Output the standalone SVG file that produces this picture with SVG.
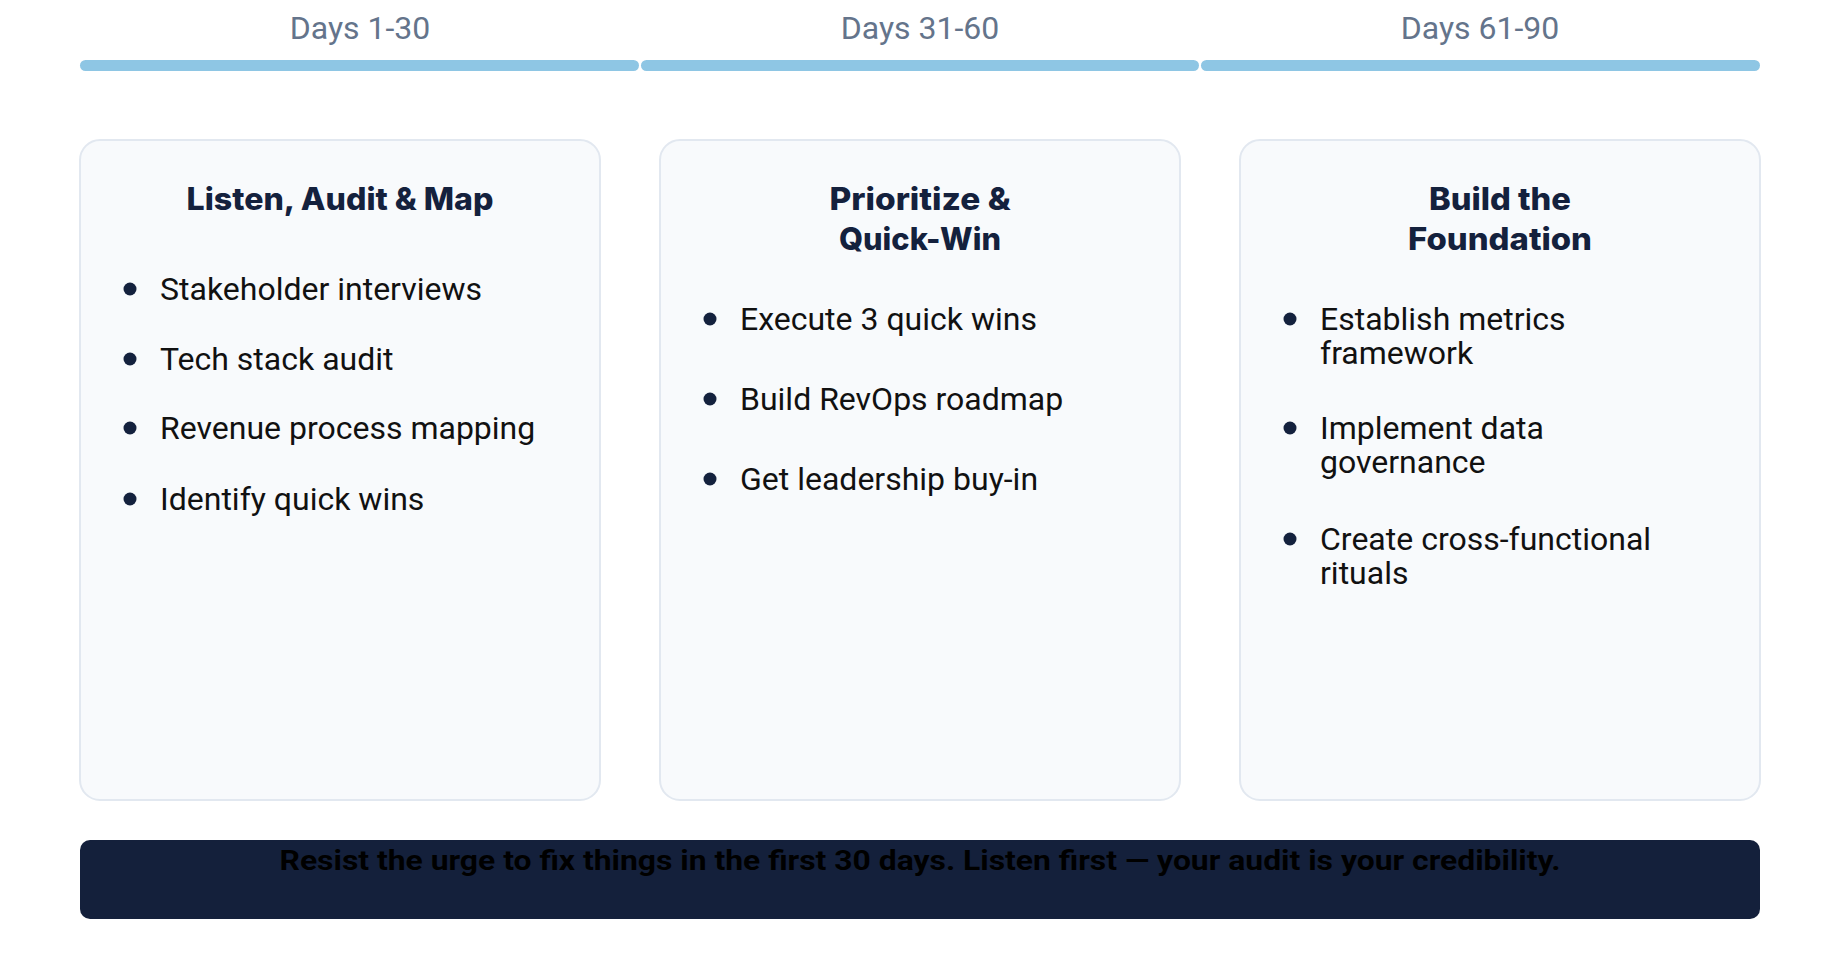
<svg xmlns="http://www.w3.org/2000/svg" width="1840" height="960" viewBox="0 0 1840 960">
<style>
.day{font-family:Roboto,"Liberation Sans",sans-serif;font-size:32px;fill:#64748b;text-anchor:middle}
.seg{fill:#8ec6e4}
.card{fill:#f8fafc;stroke:#e2e8f0;stroke-width:2}
.title{font-family:Inter,Roboto,"Liberation Sans",sans-serif;font-weight:800;font-size:31px;fill:#14213d;text-anchor:middle}
.item{font-family:Roboto,"Liberation Sans",sans-serif;font-size:32px;fill:#111111}
.dot{fill:#14213d}
.footer{fill:#14203b}
.note{font-family:Roboto,"Liberation Sans",sans-serif;font-weight:700;font-size:28px;fill:#000000;text-anchor:middle}
</style>
<rect width="1840" height="960" fill="#ffffff"/>
<g id="timeline">
<text class="day" x="360" y="39">Days 1-30</text>
<text class="day" x="920" y="39">Days 31-60</text>
<text class="day" x="1480" y="39">Days 61-90</text>
<rect class="seg" x="80" y="60" width="559" height="11" rx="5.5"/>
<rect class="seg" x="641" y="60" width="558" height="11" rx="5.5"/>
<rect class="seg" x="1201" y="60" width="559" height="11" rx="5.5"/>
</g>
<g id="connectors"></g>
<g id="phase1">
<rect class="card" x="80" y="140" width="520" height="660" rx="20"/>
<text class="title" x="340" y="210" textLength="307" lengthAdjust="spacingAndGlyphs">Listen, Audit &amp; Map</text>
<circle class="dot" cx="130" cy="289" r="6.5"/><text class="item" x="160" y="300">Stakeholder interviews</text>
<circle class="dot" cx="130" cy="359" r="6.5"/><text class="item" x="160" y="370">Tech stack audit</text>
<circle class="dot" cx="130" cy="428" r="6.5"/><text class="item" x="160" y="439">Revenue process mapping</text>
<circle class="dot" cx="130" cy="499" r="6.5"/><text class="item" x="160" y="510">Identify quick wins</text>
</g>
<g id="phase2">
<rect class="card" x="660" y="140" width="520" height="660" rx="20"/>
<text class="title" x="920" y="210" textLength="181" lengthAdjust="spacingAndGlyphs">Prioritize &amp;</text>
<text class="title" x="920" y="250" textLength="162" lengthAdjust="spacingAndGlyphs">Quick-Win</text>
<circle class="dot" cx="710" cy="319" r="6.5"/><text class="item" x="740" y="330">Execute 3 quick wins</text>
<circle class="dot" cx="710" cy="399" r="6.5"/><text class="item" x="740" y="410">Build RevOps roadmap</text>
<circle class="dot" cx="710" cy="479" r="6.5"/><text class="item" x="740" y="490">Get leadership buy-in</text>
</g>
<g id="phase3">
<rect class="card" x="1240" y="140" width="520" height="660" rx="20"/>
<text class="title" x="1500" y="210" textLength="142" lengthAdjust="spacingAndGlyphs">Build the</text>
<text class="title" x="1500" y="250" textLength="184" lengthAdjust="spacingAndGlyphs">Foundation</text>
<circle class="dot" cx="1290" cy="319" r="6.5"/><text class="item" x="1320" y="330">Establish metrics</text><text class="item" x="1320" y="364">framework</text>
<circle class="dot" cx="1290" cy="428" r="6.5"/><text class="item" x="1320" y="439">Implement data</text><text class="item" x="1320" y="473">governance</text>
<circle class="dot" cx="1290" cy="539" r="6.5"/><text class="item" x="1320" y="550">Create cross-functional</text><text class="item" x="1320" y="584">rituals</text>
</g>
<g id="callout">
<rect class="footer" x="80" y="840" width="1680" height="79" rx="10"/>
<text class="note" x="920" y="870" textLength="1281" lengthAdjust="spacingAndGlyphs">Resist the urge to fix things in the first 30 days. Listen first — your audit is your credibility.</text>
</g>
</svg>
